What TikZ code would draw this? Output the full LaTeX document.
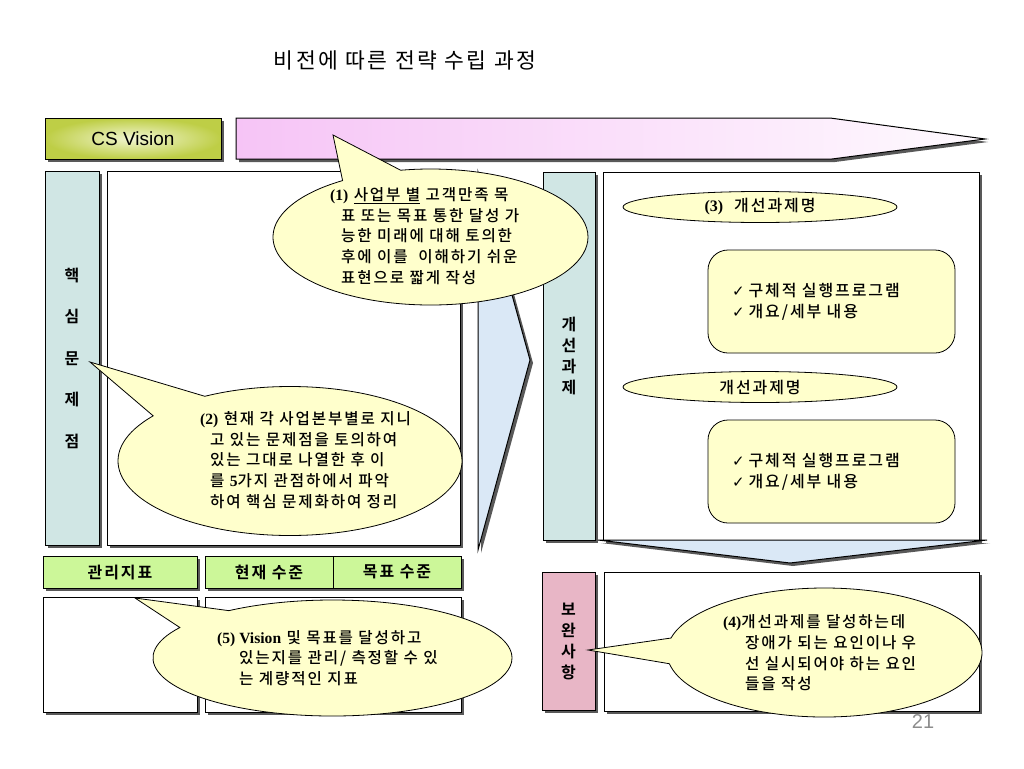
\documentclass[tikz,border=0pt]{standalone}
\usepackage{fontspec}
\setmainfont{Noto Sans CJK KR}[UprightFont=* Medium,BoldFont=* Bold,LetterSpace=12]
\newfontfamily\krthin{Noto Sans CJK KR}[LetterSpace=12]
\newfontfamily\tnr{Liberation Serif}
\newfontfamily\arial{Liberation Sans}
\newfontfamily\sym{DejaVu Sans}
\usepackage{xcolor}
\usepackage{tikz}
\usetikzlibrary{shapes.callouts,shapes.geometric,shadows}

\definecolor{tealbox}{RGB}{208,230,228}
\definecolor{pinkbox}{RGB}{232,182,198}
\definecolor{greenbox}{RGB}{204,247,153}
\definecolor{notefill}{RGB}{255,255,204}
\definecolor{arrowblue}{RGB}{218,232,246}
\definecolor{visionpink}{RGB}{246,196,246}
\definecolor{olive}{RGB}{190,206,70}
\definecolor{olivelight}{RGB}{242,246,210}

\tikzset{
  shadowed/.style={drop shadow={shadow xshift=3pt,shadow yshift=-3pt,fill=black!65,opacity=1}},
  panel/.style={draw,line width=1pt,fill=white,shadowed,inner sep=0pt},
  colbox/.style={panel,fill=tealbox,align=center,font=\fontsize{16}{21}\selectfont\bfseries},
  headbox/.style={panel,fill=greenbox,minimum height=32pt,font=\fontsize{16}{18}\selectfont\bfseries},
  bubble/.style={ellipse callout,draw,line width=0.8pt,fill=notefill,inner sep=0pt,callout pointer arc=23},
  note/.style={anchor=west,align=left,inner sep=0pt,font=\fontsize{15.6}{20.7}\selectfont},
  tasktag/.style={ellipse,draw,line width=0.8pt,fill=notefill,inner sep=0pt,minimum width=274pt,minimum height=31pt,font=\fontsize{16}{18}\selectfont},
  progbox/.style={draw,line width=0.8pt,rounded corners=20pt,fill=notefill,inner sep=0pt,minimum width=247pt,minimum height=103pt,text width=199pt,align=left,font=\fontsize{16}{21}\selectfont},
}
\newcommand{\tagnum}[1]{{\tnr\bfseries #1}}
\newcommand{\chkmark}{{\sym\bfseries\fontsize{15}{15}\selectfont ✓}\hspace{4pt}}

\begin{document}
\begin{tikzpicture}[x=1pt,y=-1pt]
  \useasboundingbox (0,0) rectangle (1024,768);
  \node[font=\krthin\fontsize{21.5}{24}\selectfont] (title) at (405,60) {비전에 따른 전략 수립 과정};
  % page number sits under the bottom panel
  \node[font=\arial\fontsize{20}{22}\selectfont,text=black!45] (pagenum) at (923,722) {21};

  % vision row
  \node[panel,inner color=olivelight,outer color=olive,minimum width=176pt,minimum height=41pt,
        font=\arial\fontsize{19}{22}\selectfont] (csv) at (133,138.5) {CS Vision};
  \draw[line width=1pt,shadowed,left color=visionpink,right color=visionpink!8]
    (236,118) -- (830,118) -- (985,139) -- (832,159) -- (236,159) -- cycle;
  \coordinate (visiontip) at (333,135);

  % problems and tasks
  \node[colbox,minimum width=54pt,minimum height=374pt,font=\fontsize{16}{41.5}\selectfont\bfseries] (hs) at (72,358) {핵\\심\\문\\제\\점};
  \node[panel,minimum width=353pt,minimum height=374pt] (hsarea) at (283.5,358) {};
  \draw[line width=1pt,shadowed,fill=arrowblue] (478,172) -- (530,360) -- (478,550) -- cycle;
  \node[colbox,minimum width=52pt,minimum height=368pt] (gs) at (569,356) {개\\선\\과\\제};
  \node[panel,minimum width=376pt,minimum height=368pt] (gsarea) at (791,356) {};
  \node[tasktag] (tag1) at (760,207) {\tagnum{(3)}\ \ 개선과제명};
  \node[progbox] (prog1) at (831.5,301.5) {\chkmark 구체적 실행프로그램\\\chkmark 개요/세부 내용};
  \node[tasktag] (tag2) at (760,387) {개선과제명};
  \node[progbox] (prog2) at (831.5,471.5) {\chkmark 구체적 실행프로그램\\\chkmark 개요/세부 내용};
  \draw[line width=1pt,shadowed,fill=arrowblue] (598,540) -- (987,540) -- (790,563) -- cycle;

  % indicators
  \node[headbox,minimum width=154pt] (kpi) at (120,572) {관리지표};
  \node[headbox,minimum width=128pt] (cur) at (269,572) {현재 수준};
  \node[headbox,minimum width=128pt] (goal) at (397,572) {목표 수준};
  \node[panel,minimum width=154pt,minimum height=115pt] (kpiarea) at (120,654.5) {};
  \node[panel,minimum width=256pt,minimum height=115pt] (levelarea) at (333,654.5) {};

  % supplements
  \node[colbox,fill=pinkbox,minimum width=53pt,minimum height=138pt] (bw) at (568.5,641) {보\\완\\사\\항};
  \node[panel,minimum width=375pt,minimum height=139pt] (bwarea) at (791.5,641.5) {};

  % callouts
  \coordinate (hstip) at (90,362);
  \coordinate (bwtip) at (588,650);
  \coordinate (kpitip) at (135,598);
  \node[bubble,minimum width=315pt,minimum height=136pt,callout absolute pointer={(visiontip)}] (c1) at (430.5,237) {};
  \node[note] (t1) at (330,236) {\tagnum{(1)} \underline{사업부 별} 고객만족 목\\
    \hspace*{11pt}표 또는 목표 통한 달성 가\\
    \hspace*{11pt}능한 미래에 대해 토의한\\
    \hspace*{11pt}후에 이를\ \ 이해하기 쉬운\\
    \hspace*{11pt}표현으로 짧게 작성};
  \node[bubble,minimum width=344pt,minimum height=149pt,callout absolute pointer={(hstip)}] (c2) at (290,461) {};
  \node[note] (t2) at (200,460) {\tagnum{(2)} 현재 각 사업본부별로 지니\\
    \hspace*{10pt}고 있는 문제점을 토의하여\\
    \hspace*{10pt}있는 그대로 나열한 후 이\\
    \hspace*{10pt}를 \tagnum{5}가지 관점하에서 파악\\
    \hspace*{10pt}하여 핵심 문제화하여 정리};
  \node[bubble,minimum width=315pt,minimum height=129pt,callout absolute pointer={(bwtip)}] (c4) at (824.5,652.5) {};
  \node[note] (t4) at (723,653) {\tagnum{(4)}개선과제를 달성하는데\\
    \hspace*{22pt}장애가 되는 요인이나 우\\
    \hspace*{22pt}선 실시되어야 하는 요인\\
    \hspace*{22pt}들을 작성};
  \node[bubble,minimum width=359pt,minimum height=116pt,callout absolute pointer={(kpitip)}] (c5) at (332.5,658) {};
  \node[note] (t5) at (217,658) {\tagnum{(5) Vision} 및 목표를 달성하고\\
    \hspace*{22pt}있는지를 관리/ 측정할 수 있\\
    \hspace*{22pt}는 계량적인 지표};
\end{tikzpicture}
\end{document}
